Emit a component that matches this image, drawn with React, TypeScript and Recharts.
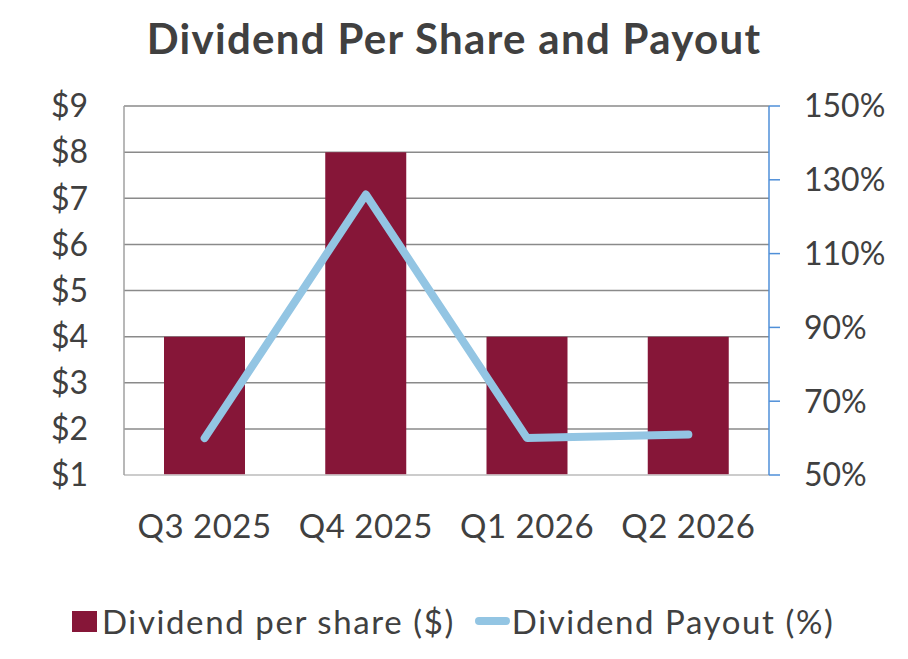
import {
  Bar,
  CartesianGrid,
  ComposedChart,
  Legend,
  Line,
  XAxis,
  YAxis,
} from "recharts";

const quarters = ["Q3 2025", "Q4 2025", "Q1 2026", "Q2 2026"];
const dividendPerShare = [4, 8, 4, 4];
const payoutPct = [60, 126, 60, 61];
const leftTicks = [1, 2, 3, 4, 5, 6, 7, 8, 9];
const rightTicks = [50, 70, 90, 110, 130, 150];

const BAR_COLOR = "#861638";
const LINE_COLOR = "#93c5e3";
const TEXT_COLOR = "#404040";
const FONT = "Lato, 'Open Sans', sans-serif";

const data = quarters.map((quarter, i) => ({
  quarter,
  dps: dividendPerShare[i],
  payout: payoutPct[i],
}));

function LegendContent() {
  return (
    <div
      style={{
        height: 50,
        display: "flex",
        alignItems: "center",
        fontFamily: FONT,
        fontSize: 33,
        letterSpacing: 1.6,
        color: TEXT_COLOR,
        paddingLeft: 72,
        whiteSpace: "nowrap",
      }}
    >
      <span style={{ width: 25, height: 21, background: BAR_COLOR, marginRight: 5 }} />
      <span>Dividend per share ($)</span>
      <span
        style={{
          width: 35,
          height: 8,
          borderRadius: 4,
          background: LINE_COLOR,
          marginLeft: 20,
          marginRight: 2,
        }}
      />
      <span>Dividend Payout (%)</span>
    </div>
  );
}

export default function App() {
  return (
    <div style={{ position: "absolute", left: 0, top: 0, width: 908, height: 659, background: "#fff" }}>
      <div
        style={{
          position: "absolute",
          top: 10,
          left: 0,
          width: 908,
          textAlign: "center",
          fontFamily: FONT,
          fontWeight: 700,
          fontSize: 42,
          letterSpacing: 1.3,
          color: TEXT_COLOR,
          lineHeight: "56px",
        }}
      >
        Dividend Per Share and Payout
      </div>
      <ComposedChart
        width={908}
        height={659}
        data={data}
        margin={{ top: 106, right: 0, bottom: 13, left: 0 }}
        barSize={81}
      >
        <CartesianGrid yAxisId="left" vertical={false} stroke="#8a8a8a" strokeWidth={1.5} />
        <XAxis
          dataKey="quarter"
          height={121}
          tickSize={0}
          tickMargin={40}
          tickLine={false}
          axisLine={{ stroke: "#d9d9d9", strokeWidth: 1.5 }}
          tick={{ fill: TEXT_COLOR, fontSize: 33, fontFamily: FONT, letterSpacing: 0.5 }}
        />
        <YAxis
          yAxisId="left"
          domain={[1, 9]}
          ticks={leftTicks}
          width={124}
          tickSize={0}
          tickMargin={36}
          tickLine={false}
          axisLine={{ stroke: "#a0a0a0", strokeWidth: 1.5 }}
          tickFormatter={(v: number) => `$${v}`}
          tick={{ fill: TEXT_COLOR, fontSize: 32, fontFamily: FONT }}
        />
        <YAxis
          yAxisId="right"
          orientation="right"
          domain={[50, 150]}
          ticks={rightTicks}
          width={139}
          tickSize={11}
          tickMargin={24}
          tickLine={{ stroke: "#4f8fd8", strokeWidth: 1.5 }}
          axisLine={{ stroke: "#4f8fd8", strokeWidth: 1.5 }}
          tickFormatter={(v: number) => `${v}%`}
          tick={{ fill: TEXT_COLOR, fontSize: 32, fontFamily: FONT }}
        />
        <Legend verticalAlign="bottom" align="left" content={<LegendContent />} />
        <Bar
          yAxisId="left"
          dataKey="dps"
          name="Dividend per share ($)"
          fill={BAR_COLOR}
          isAnimationActive={false}
        />
        <Line
          yAxisId="right"
          dataKey="payout"
          name="Dividend Payout (%)"
          type="linear"
          stroke={LINE_COLOR}
          strokeWidth={8}
          strokeLinecap="round"
          strokeLinejoin="round"
          dot={false}
          activeDot={false}
          isAnimationActive={false}
        />
      </ComposedChart>
    </div>
  );
}
